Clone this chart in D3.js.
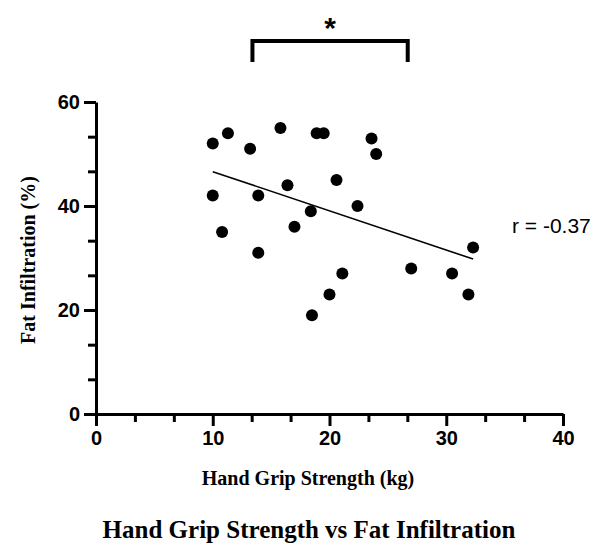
<!DOCTYPE html>
<html>
<head>
<meta charset="utf-8">
<script src="https://cdn.jsdelivr.net/npm/d3@7"></script>
<style>
  body { margin: 0; background: #fff; }
  .axis path, .axis line { stroke: #000; stroke-width: 3; }
  .axis text { font-family: "Liberation Sans", Arial, sans-serif; font-weight: bold; font-size: 20px; fill: #000; }
  .lbl { font-family: "Liberation Serif", "Times New Roman", serif; font-weight: bold; fill: #000; }
</style>
</head>
<body>
<svg id="chart"></svg>
<script>
// hand grip strength (kg) / fat infiltration (%) for each subject
var gripKg = [10, 11.3, 13.2, 15.8, 10, 13.9, 16.4, 10.8, 17, 13.9,
  18.9, 19.5, 23.6, 24, 20.6, 22.4, 18.4, 32.3,
  18.5, 20, 21.1, 27, 30.5, 31.9]
var fatPct = [52, 54, 51, 55, 42, 42, 44, 35, 36, 31,
  54, 54, 53, 50, 45, 40, 39, 32,
  19, 23, 27, 28, 27, 23]

// fitted line ends
var fitX = [10, 32.3]
var fitY = [46.6, 29.8]

var xTicks = [0, 10, 20, 30, 40]
var yTicks = [0, 20, 40, 60]
var bracketX = [13.4, 26.7]
var rLabel = "r = -0.37"

function renderChart() {
  var W = 609, H = 558
  var margin = { top: 102, right: 46, bottom: 144, left: 96 }
  var width = W - margin.left - margin.right
  var height = H - margin.top - margin.bottom

  var svg = d3.select("#chart")
    .attr("width", W)
    .attr("height", H)

  var x = d3.scaleLinear().domain([0, 40]).range([0, width])
  var y = d3.scaleLinear().domain([0, 60]).range([height, 0])

  var g = svg.append("g")
    .attr("transform", "translate(" + margin.left + "," + margin.top + ")")

  var xMinor = d3.range(0, 40, 10 / 3).filter(function(d) { return Math.abs(d % 10) > 0.1 })
  var yMinor = d3.range(0, 60, 20 / 3).filter(function(d) { return Math.abs(d % 20) > 0.1 })

  g.append("g")
    .attr("class", "axis")
    .attr("transform", "translate(0," + height + ")")
    .call(d3.axisBottom(x).tickValues(xMinor).tickSize(8).tickFormat(""))
    .select(".domain").remove()

  g.append("g")
    .attr("class", "axis")
    .call(d3.axisLeft(y).tickValues(yMinor).tickSize(8).tickFormat(""))
    .select(".domain").remove()

  g.append("g")
    .attr("class", "axis")
    .attr("transform", "translate(0," + height + ")")
    .call(d3.axisBottom(x).tickValues(xTicks).tickSize(12).tickSizeOuter(0).tickPadding(5))

  g.append("g")
    .attr("class", "axis")
    .call(d3.axisLeft(y).tickValues(yTicks).tickSize(12).tickSizeOuter(0).tickPadding(4))

  // fit line
  g.append("line")
    .attr("x1", x(fitX[0]))
    .attr("y1", y(fitY[0]))
    .attr("x2", x(fitX[1]))
    .attr("y2", y(fitY[1]))
    .attr("stroke", "#000")
    .attr("stroke-width", 1.6)

  g.selectAll(".dot")
    .data(gripKg)
    .enter().append("circle")
    .attr("class", "dot")
    .attr("cx", function(d) { return x(d) })
    .attr("cy", function(d, i) { return y(fatPct[i]) })
    .attr("r", 6)
    .attr("fill", "#000")

  // significance bracket
  var by = 41 - margin.top
  g.append("path")
    .attr("d", "M" + x(bracketX[0]) + "," + (by + 21) + "V" + by + "H" + x(bracketX[1]) + "V" + (by + 21))
    .attr("fill", "none")
    .attr("stroke", "#000")
    .attr("stroke-width", 4)

  g.append("text")
    .attr("x", (x(bracketX[0]) + x(bracketX[1])) / 2)
    .attr("y", by - 3)
    .attr("text-anchor", "middle")
    .style("font-family", "Liberation Sans, Arial, sans-serif")
    .style("font-weight", "bold")
    .style("font-size", "30px")
    .text("*")

  g.append("text")
    .attr("x", 416)
    .attr("y", 131)
    .style("font-family", "Liberation Sans, Arial, sans-serif")
    .style("font-size", "21px")
    .text(rLabel)

  g.append("text")
    .attr("class", "lbl")
    .attr("x", 212)
    .attr("y", height + 71)
    .attr("text-anchor", "middle")
    .style("font-size", "20px")
    .text("Hand Grip Strength (kg)")

  g.append("text")
    .attr("class", "lbl")
    .attr("transform", "translate(-61," + (height / 2 + 2) + ") rotate(-90)")
    .attr("text-anchor", "middle")
    .style("font-size", "20px")
    .text("Fat Infiltration (%)")

  svg.append("text")
    .attr("class", "lbl")
    .attr("x", 309)
    .attr("y", 538)
    .attr("text-anchor", "middle")
    .style("font-size", "25px")
    .text("Hand Grip Strength vs Fat Infiltration")
}

renderChart()
</script>
</body>
</html>
